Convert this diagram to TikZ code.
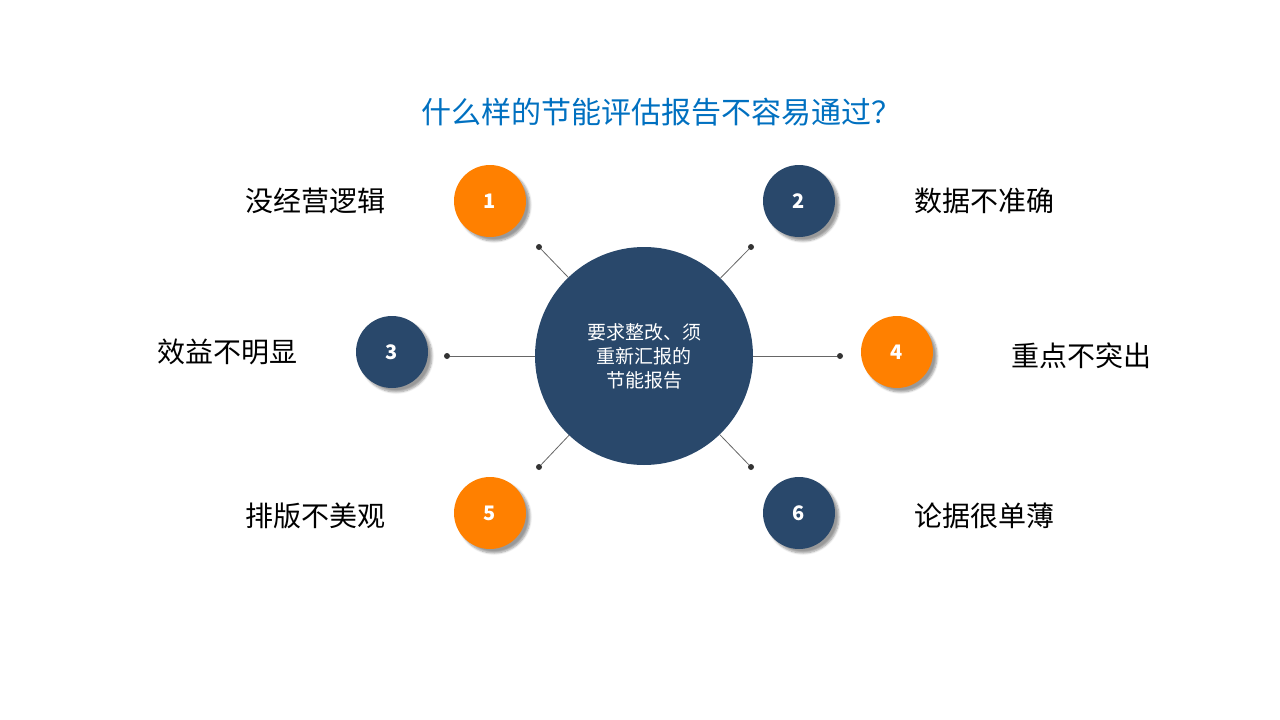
\documentclass[tikz,border=0pt]{standalone}
\usepackage{fontspec}
\setmainfont{Noto Sans CJK SC}
\usetikzlibrary{shadows.blur}
\definecolor{navy}{RGB}{41,72,107}
\definecolor{orng}{RGB}{255,128,0}
\definecolor{ttl}{RGB}{0,112,192}
\tikzset{
 num/.style={circle,minimum size=72pt,inner sep=0pt,text=white,font=\fontsize{20}{20}\selectfont\bfseries,blur shadow={shadow xshift=4pt,shadow yshift=-4pt,shadow blur steps=6,shadow opacity=40}},
 ob/.style={num,fill=orng},
 nb/.style={num,fill=navy},
 lab/.style={font=\fontsize{28}{28}\selectfont,text=black},
 conn/.style={draw=gray!80!black,line width=0.8pt},
 dot/.style={circle,fill=gray!40!black,inner sep=0pt,minimum size=6pt}
}
\begin{document}
\begin{tikzpicture}[x=1pt,y=-1pt]
\useasboundingbox (0,0) rectangle (1280,720);
\node[font=\fontsize{30}{30}\selectfont,text=ttl] (title) at (661,112) {什么样的节能评估报告不容易通过？};
\node[circle,fill=navy,minimum size=218pt,inner sep=0pt,text=white,align=center,font=\fontsize{19}{24}\selectfont] (c) at (644,356) {要求整改、须\\重新汇报的\\节能报告};
\node[dot] (d1) at (539,247) {};
\node[dot] (d2) at (751,247) {};
\node[dot] (d3) at (447,356) {};
\node[dot] (d4) at (840,356) {};
\node[dot] (d5) at (539,467) {};
\node[dot] (d6) at (751,467) {};
\foreach \d in {d1,d2,d3,d4,d5,d6} \draw[conn] (\d) -- (c);
\node[ob] (n1) at (490,201) {1};
\node[nb] (n2) at (799,201) {2};
\node[nb] (n3) at (392,352) {3};
\node[ob] (n4) at (897,352) {4};
\node[ob] (n5) at (490,513) {5};
\node[nb] (n6) at (799,513) {6};
\node[lab] (l1) at (315,201) {没经营逻辑};
\node[lab] (l2) at (984,201) {数据不准确};
\node[lab] (l3) at (227,352) {效益不明显};
\node[lab] (l4) at (1081,356) {重点不突出};
\node[lab] (l5) at (315,516) {排版不美观};
\node[lab] (l6) at (984,516) {论据很单薄};
\end{tikzpicture}
\end{document}
